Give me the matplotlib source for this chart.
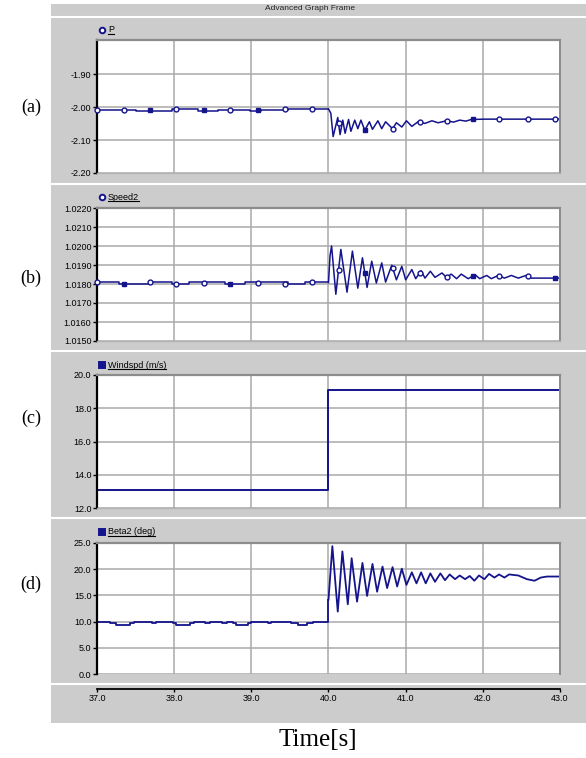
import numpy as np
import matplotlib
matplotlib.use('Agg')
import matplotlib.pyplot as plt
from matplotlib.patches import Rectangle
from matplotlib.lines import Line2D

# ---- data ----
p_t = [37.00, 37.50, 37.97, 38.31, 38.57, 38.98, 39.13, 39.48, 40.00, 40.03,
       40.06, 40.12, 40.15, 40.185, 40.215, 40.26, 40.29, 40.34, 40.38, 40.42,
       40.47, 40.53, 40.57, 40.64, 40.69, 40.74, 40.83, 40.88, 40.95, 41.01,
       41.08, 41.16, 41.25, 41.34, 41.42, 41.53, 41.62, 41.70, 41.78, 41.85,
       42.03, 43.00]
p_v = [-2.007, -2.010, -2.005, -2.010, -2.007, -2.010, -2.007, -2.005, -2.005, -2.018,
       -2.089, -2.031, -2.083, -2.039, -2.079, -2.037, -2.073, -2.039, -2.065, -2.039,
       -2.070, -2.044, -2.067, -2.041, -2.065, -2.044, -2.065, -2.047, -2.060, -2.041,
       -2.058, -2.044, -2.049, -2.041, -2.047, -2.041, -2.045, -2.039, -2.042, -2.037,
       -2.036, -2.036]

spd_t = [37.00, 37.28, 37.69, 37.97, 38.19, 38.66, 38.92, 39.48, 39.69, 40.00,
         40.02, 40.04, 40.095, 40.16, 40.24, 40.31, 40.38, 40.44, 40.50, 40.56,
         40.62, 40.69, 40.74, 40.82, 40.88, 40.95, 41.00, 41.08, 41.13, 41.20,
         41.25, 41.32, 41.38, 41.47, 41.53, 41.59, 41.66, 41.72, 41.81, 41.90,
         41.96, 42.05, 42.11, 42.20, 42.28, 42.37, 42.46, 42.56, 42.63, 43.00]
spd_v = [1.01808, 1.01800, 1.01808, 1.01800, 1.01808, 1.01800, 1.01808, 1.01800, 1.01808, 1.01808,
         1.01950, 1.02000, 1.01746, 1.01982, 1.01757, 1.01973, 1.01778, 1.01938, 1.01782, 1.01920,
         1.01805, 1.01911, 1.01810, 1.01899, 1.01822, 1.01893, 1.01822, 1.01876, 1.01828, 1.01870,
         1.01831, 1.01867, 1.01835, 1.01858, 1.01835, 1.01852, 1.01828, 1.01852, 1.01828, 1.01849,
         1.01828, 1.01845, 1.01828, 1.01845, 1.01831, 1.01845, 1.01831, 1.01845, 1.01831, 1.01831]

wind_t = [37.0, 40.0, 43.0]
wind_v = [13.1, 19.1, 19.1]

beta_t = [37.00, 37.17, 37.24, 37.43, 37.48, 37.71, 37.76, 37.98, 38.03, 38.21,
          38.26, 38.40, 38.47, 38.62, 38.69, 38.76, 38.80, 38.96, 39.00, 39.22,
          39.26, 39.52, 39.60, 39.72, 39.80, 40.00, 40.05, 40.12, 40.18, 40.25,
          40.30, 40.37, 40.44, 40.50, 40.57, 40.63, 40.70, 40.76, 40.83, 40.89,
          40.95, 41.01, 41.08, 41.14, 41.20, 41.26, 41.32, 41.38, 41.45, 41.51,
          41.57, 41.64, 41.70, 41.77, 41.83, 41.89, 41.95, 42.02, 42.08, 42.15,
          42.21, 42.28, 42.34, 42.46, 42.57, 42.67, 42.75, 42.83, 43.00]
beta_v = [10.0, 9.7, 9.35, 9.7, 10.0, 9.65, 10.0, 9.7, 9.35, 9.7,
          10.0, 9.65, 10.0, 9.65, 10.0, 9.7, 9.35, 9.7, 10.0, 9.65,
          10.0, 9.7, 9.35, 9.7, 10.0, 14.2, 24.4, 11.9, 23.4, 13.3,
          22.1, 13.8, 21.2, 14.9, 21.0, 15.7, 20.5, 16.4, 20.4, 16.7,
          20.1, 17.0, 19.4, 17.3, 19.4, 17.3, 19.2, 17.6, 19.2, 17.9,
          19.0, 18.1, 18.8, 18.1, 18.7, 17.8, 18.8, 18.1, 19.1, 18.4,
          19.0, 18.4, 19.0, 18.8, 18.1, 17.8, 18.4, 18.6, 18.6]

marker_t = [37.0, 37.345, 37.69, 38.03, 38.39, 38.73, 39.08, 39.43, 39.78,
            40.13, 40.47, 40.83, 41.18, 41.53, 41.87, 42.21, 42.58, 42.93]
p_filled = [0, 0, 1, 0, 1, 0, 1, 0, 0, 0, 1, 0, 0, 0, 1, 0, 0, 0]
spd_filled = [0, 1, 0, 0, 0, 1, 0, 0, 0, 0, 1, 0, 0, 0, 1, 0, 0, 1]

x_ticks = [37.0, 38.0, 39.0, 40.0, 41.0, 42.0, 43.0]
t_event = 40.0

W, H = 586, 758
navy = '#14148c'
frame_gray = '#cccccc'
grid_gray = '#a9a9a9'

fig = plt.figure(figsize=(W / 100, H / 100), dpi=100)
fig.patch.set_facecolor('white')


def fx(px):
    return px / W


def fy(py):
    return 1 - py / H


# gray frame behind everything
fig.patches.append(Rectangle((fx(51), fy(723)), (586 - 51) / W, (723 - 4) / H,
                             transform=fig.transFigure, facecolor=frame_gray,
                             edgecolor='none', zorder=-10))
for yy in [17, 184, 351, 518, 684]:
    fig.add_artist(Line2D([fx(51), fx(586)], [fy(yy), fy(yy)], color='white',
                          lw=1.5, transform=fig.transFigure, zorder=-5))
fig.text(fx(310), fy(9), 'Advanced Graph Frame', fontsize=6, ha='center',
         va='center', family='Liberation Sans', color='#222222')


def make_ax(top, bottom, ylim, yticks, fmt):
    ax = fig.add_axes([fx(97), fy(bottom), (560 - 97) / W, (bottom - top) / H])
    ax.set_facecolor('white')
    ax.set_xlim(37.0, 43.0)
    ax.set_ylim(*ylim)
    ax.set_xticks(x_ticks)
    ax.set_yticks(yticks)
    ax.set_yticklabels([fmt % v for v in yticks], family='Liberation Sans',
                       fontsize=6.5)
    ax.grid(True, color=grid_gray, lw=1.1)
    ax.set_axisbelow(True)
    ax.spines['left'].set_color('black')
    ax.spines['left'].set_linewidth(1.6)
    ax.spines['top'].set_color('#8c8c8c')
    ax.spines['top'].set_linewidth(1.6)
    ax.spines['right'].set_color('#8c8c8c')
    ax.spines['right'].set_linewidth(1.4)
    ax.spines['bottom'].set_color('#b4b4b4')
    ax.spines['bottom'].set_linewidth(1.0)
    ax.tick_params(axis='y', direction='out', length=3, width=1, pad=1,
                   colors='black')
    ax.tick_params(axis='x', length=0, labelbottom=False)
    return ax


def plot_signal(ax, t, v, lw):
    # held (stepped) values before the event, sampled response after it
    k = t.index(t_event)
    ax.plot(t[:k + 1], v[:k + 1], color=navy, lw=lw, drawstyle='steps-post')
    ax.plot(t[k:], v[k:], color=navy, lw=lw)


ax_a = make_ax(40, 173, (-2.2, -1.795), [-2.2, -2.1, -2.0, -1.9], '%.2f')
ax_b = make_ax(208, 341, (1.0150, 1.0220), list(np.arange(1.0150, 1.02205, 0.001)), '%.4f')
ax_c = make_ax(375, 508, (12.0, 20.0), [12.0, 14.0, 16.0, 18.0, 20.0], '%.1f')
ax_d = make_ax(543, 674, (0.0, 25.0), [0.0, 5.0, 10.0, 15.0, 20.0, 25.0], '%.1f')

plot_signal(ax_a, p_t, p_v, 1.1)
plot_signal(ax_b, spd_t, spd_v, 1.1)
ax_c.plot(wind_t, wind_v, color=navy, lw=1.4, drawstyle='steps-post')
plot_signal(ax_d, beta_t, beta_v, 1.3)

for ax, t, v, filled in [(ax_a, p_t, p_v, p_filled), (ax_b, spd_t, spd_v, spd_filled)]:
    my = np.interp(marker_t, t, v)
    for xm, ym, f in zip(marker_t, my, filled):
        ax.plot([xm], [ym], marker='s' if f else 'o', ms=3.5,
                mfc=navy if f else 'white', mec=navy, mew=1.0, ls='none',
                clip_on=False, zorder=5)

# bottom axis of the last panel, detached below the plot
ax_d.spines['bottom'].set_position(('outward', 10.8))
ax_d.spines['bottom'].set_color('black')
ax_d.spines['bottom'].set_linewidth(1.3)
ax_d.tick_params(axis='x', length=2.5, width=1, direction='out', pad=1,
                 labelbottom=True, colors='black')
ax_d.set_xticklabels(['%.1f' % v for v in x_ticks], family='Liberation Sans',
                     fontsize=6.5)

# legend strips
legend_items = [(30, 'P', 'o'), (197, 'Speed2', 'o'),
                (365, 'Windspd (m/s)', 's'), (532, 'Beta2 (deg)', 's')]
leg_texts = []
for yy, label, mk in legend_items:
    fig.add_artist(Line2D([fx(102)], [fy(yy)], marker=mk, ms=4,
                          mfc='white' if mk == 'o' else navy, mec=navy, mew=1.4,
                          ls='none', transform=fig.transFigure))
    leg_texts.append(fig.text(fx(108), fy(yy), label, fontsize=6.5,
                              family='Liberation Sans', ha='left', va='center'))

fig.canvas.draw()
for txt in leg_texts:
    bb = txt.get_window_extent()
    fig.add_artist(Line2D([bb.x0 / W, bb.x1 / W], [(bb.y0 + 0.5) / H] * 2,
                          color='black', lw=0.8, transform=fig.transFigure))

# panel labels and axis title
for yy, lab in [(107, '(a)'), (278, '(b)'), (418, '(c)'), (584, '(d)')]:
    fig.text(fx(31), fy(yy), lab, fontsize=13, family='Liberation Serif',
             ha='center', va='center')
fig.text(fx(318), fy(740), 'Time[s]', fontsize=18, family='Liberation Serif',
         ha='center', va='center')

fig.savefig('out.png', dpi=100)
